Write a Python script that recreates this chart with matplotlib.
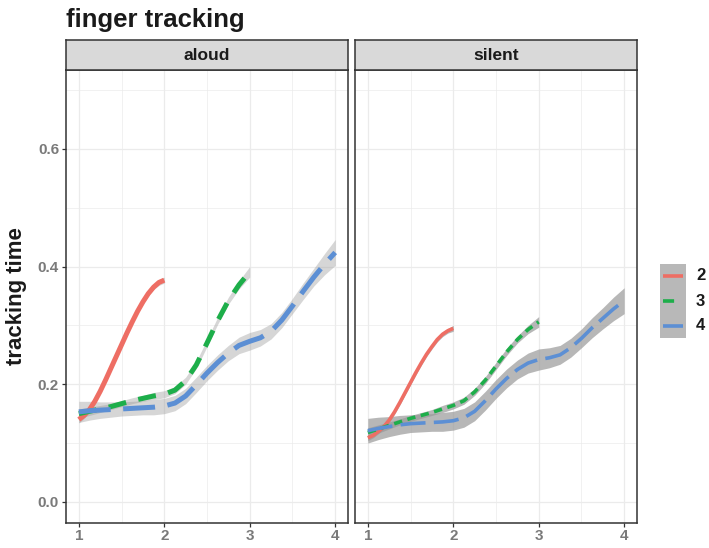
import numpy as np
import matplotlib
matplotlib.use("Agg")
import matplotlib.pyplot as plt
from matplotlib.ticker import FixedLocator

plt.rcParams['font.family'] = ['Liberation Sans', 'DejaVu Sans']
plt.rcParams['lines.scale_dashes'] = False

panels = ["aloud", "silent"]
groups = ["2", "3", "4"]
colors = {"2": "#EE6E64", "3": "#1DAE4A", "4": "#5C8FD4"}

x2 = [1.0, 1.0625, 1.125, 1.1875, 1.25, 1.3125, 1.375, 1.4375, 1.5,
      1.5625, 1.625, 1.6875, 1.75, 1.8125, 1.875, 1.9375, 2.0]
x3 = [1.0, 1.125, 1.25, 1.375, 1.5, 1.625, 1.75, 1.875, 2.0,
      2.125, 2.25, 2.375, 2.5, 2.625, 2.75, 2.875, 3.0]
x4 = [1.0, 1.125, 1.25, 1.375, 1.5, 1.625, 1.75, 1.875, 2.0,
      2.125, 2.25, 2.375, 2.5, 2.625, 2.75, 2.875, 3.0,
      3.125, 3.25, 3.375, 3.5, 3.625, 3.75, 3.875, 4.0]

# aloud
aloud_y2 = [0.140, 0.147, 0.157, 0.171, 0.188, 0.207, 0.227, 0.247, 0.267,
            0.287, 0.306, 0.324, 0.340, 0.354, 0.365, 0.373, 0.377]
aloud_se2 = [0.006, 0.005, 0.004, 0.004, 0.004, 0.004, 0.004, 0.004, 0.004,
             0.004, 0.004, 0.004, 0.004, 0.004, 0.004, 0.005, 0.005]
aloud_y3 = [0.150, 0.154, 0.158, 0.162, 0.167, 0.172, 0.176, 0.180, 0.183,
            0.190, 0.206, 0.233, 0.270, 0.308, 0.342, 0.369, 0.391]
aloud_se3 = [0.008, 0.007, 0.006, 0.005, 0.005, 0.005, 0.005, 0.006, 0.006,
             0.006, 0.006, 0.006, 0.006, 0.006, 0.006, 0.007, 0.009]
aloud_y4 = [0.153, 0.155, 0.156, 0.157, 0.158, 0.159, 0.160, 0.161, 0.163,
            0.168, 0.180, 0.199, 0.219, 0.237, 0.253, 0.266, 0.273,
            0.279, 0.290, 0.309, 0.333, 0.358, 0.382, 0.404, 0.424]
aloud_se4 = [0.018, 0.016, 0.014, 0.013, 0.012, 0.012, 0.012, 0.013, 0.013,
             0.013, 0.013, 0.013, 0.013, 0.013, 0.013, 0.014, 0.015,
             0.014, 0.013, 0.013, 0.013, 0.014, 0.015, 0.018, 0.022]

# silent
silent_y2 = [0.109, 0.113, 0.120, 0.128, 0.139, 0.153, 0.169, 0.186, 0.203,
             0.220, 0.236, 0.251, 0.264, 0.276, 0.285, 0.291, 0.295]
silent_se2 = [0.005, 0.004, 0.004, 0.004, 0.004, 0.004, 0.004, 0.004, 0.004,
              0.004, 0.004, 0.004, 0.004, 0.004, 0.004, 0.004, 0.005]
silent_y3 = [0.118, 0.124, 0.130, 0.136, 0.142, 0.147, 0.152, 0.158, 0.164,
             0.172, 0.187, 0.207, 0.231, 0.255, 0.276, 0.293, 0.306]
silent_se3 = [0.008, 0.007, 0.006, 0.005, 0.005, 0.005, 0.005, 0.006, 0.006,
              0.006, 0.006, 0.006, 0.006, 0.006, 0.006, 0.007, 0.009]
silent_y4 = [0.121, 0.125, 0.128, 0.131, 0.133, 0.134, 0.135, 0.136, 0.138,
             0.143, 0.154, 0.172, 0.192, 0.210, 0.225, 0.236, 0.242,
             0.245, 0.250, 0.262, 0.278, 0.296, 0.312, 0.328, 0.342]
silent_se4 = [0.021, 0.019, 0.017, 0.016, 0.015, 0.015, 0.015, 0.016, 0.016,
              0.016, 0.016, 0.016, 0.016, 0.016, 0.016, 0.017, 0.018,
              0.017, 0.016, 0.016, 0.016, 0.017, 0.018, 0.020, 0.022]

data = {
    "aloud": [(x2, aloud_y2, aloud_se2), (x3, aloud_y3, aloud_se3), (x4, aloud_y4, aloud_se4)],
    "silent": [(x2, silent_y2, silent_se2), (x3, silent_y3, silent_se3), (x4, silent_y4, silent_se4)],
}

# per panel look: line width, ribbon alpha, dash patterns
style = {
    "aloud": dict(lw=3.6, alpha=0.4, dashes={"2": None, "3": (13, 9), "4": (23, 9)}),
    "silent": dict(lw=2.6, alpha=0.7, dashes={"2": None, "3": (6, 4), "4": (18, 6)}),
}

W, H = 709, 548
fig = plt.figure(figsize=(W / 100, H / 100), dpi=100)

panel_left = [66, 355]
panel_w = 282
panel_top, panel_bot = 69.5, 522.5
strip_top = 40

for i, name in enumerate(panels):
    ax = fig.add_axes([panel_left[i] / W, (H - panel_bot) / H, panel_w / W, (panel_bot - panel_top) / H])
    st = style[name]
    for g, (xs, ys, se) in zip(groups, data[name]):
        xs = np.array(xs); ys = np.array(ys); se = np.array(se)
        ax.fill_between(xs, ys - se, ys + se, color="#999999", alpha=st["alpha"], lw=0)
        ln, = ax.plot(xs, ys, color=colors[g], lw=st["lw"], solid_capstyle="butt",
                      dash_capstyle="butt", solid_joinstyle="round", dash_joinstyle="round")
        if st["dashes"][g] is not None:
            ln.set_dashes(st["dashes"][g])
    ax.set_xlim(0.85, 4.15)
    ax.set_ylim(-0.035, 0.735)
    ax.set_xticks([1, 2, 3, 4])
    ax.set_xticklabels(["1", "2", "3", "4"])
    ax.set_yticks([0.0, 0.2, 0.4, 0.6])
    ax.xaxis.set_minor_locator(FixedLocator([1.5, 2.5, 3.5]))
    ax.yaxis.set_minor_locator(FixedLocator([0.1, 0.3, 0.5, 0.7]))
    ax.grid(True, which="major", color="#ebebeb", lw=0.9)
    ax.grid(True, which="minor", color="#ebebeb", lw=0.5)
    ax.set_axisbelow(True)
    for sp in ax.spines.values():
        sp.set_color("#333333")
        sp.set_linewidth(1.1)
    ax.tick_params(which="major", length=3, width=0.9, color="#333333", labelcolor="#7a7a7a",
                   labelsize=11, pad=2)
    ax.tick_params(which="minor", length=0)
    for lab in ax.get_xticklabels() + ax.get_yticklabels():
        lab.set_fontweight("bold")
    if i == 0:
        ax.set_yticklabels(["0.0", "0.2", "0.4", "0.6"])
    else:
        ax.tick_params(axis="y", left=False, labelleft=False)

    # facet strip
    sax = fig.add_axes([panel_left[i] / W, (H - panel_top) / H, panel_w / W, (panel_top - strip_top) / H])
    sax.set_facecolor("#d9d9d9")
    sax.set_xticks([]); sax.set_yticks([])
    for sp in sax.spines.values():
        sp.set_color("#333333")
        sp.set_linewidth(1.1)
    sax.text(0.5, 0.48, name, ha="center", va="center", fontsize=12.5, fontweight="bold",
             color="#1a1a1a", transform=sax.transAxes)

fig.text(66.5 / W, 1 - 27 / H, "finger tracking", fontsize=18.5, fontweight="bold",
         color="#1a1a1a", va="baseline", ha="left")
fig.text(16.5 / W, 1 - 296 / H, "tracking time", fontsize=16, fontweight="bold",
         rotation=90, ha="center", va="center", color="#1a1a1a")

# legend: grey key background (ribbon fill) with line keys
lax = fig.add_axes([660 / W, (H - 338) / H, 26 / W, 74 / H])
lax.set_facecolor("#b8b8b8")
lax.set_xlim(0, 1); lax.set_ylim(0, 3)
lax.set_xticks([]); lax.set_yticks([])
for sp in lax.spines.values():
    sp.set_visible(False)
key_dashes = {"2": None, "3": (8, 20), "4": (20, 4)}
for k, g in enumerate(groups):
    yk = 2.5 - k
    ln, = lax.plot([0.12, 0.88], [yk, yk], color=colors[g], lw=2.6, solid_capstyle="butt",
                   dash_capstyle="butt")
    if key_dashes[g] is not None:
        ln.set_dashes(key_dashes[g])
    fig.text(696 / W, 1 - (276 + 25 * k) / H, g, fontsize=12, fontweight="bold",
             color="#1a1a1a", ha="left", va="center")

fig.savefig("out.png", dpi=100)
